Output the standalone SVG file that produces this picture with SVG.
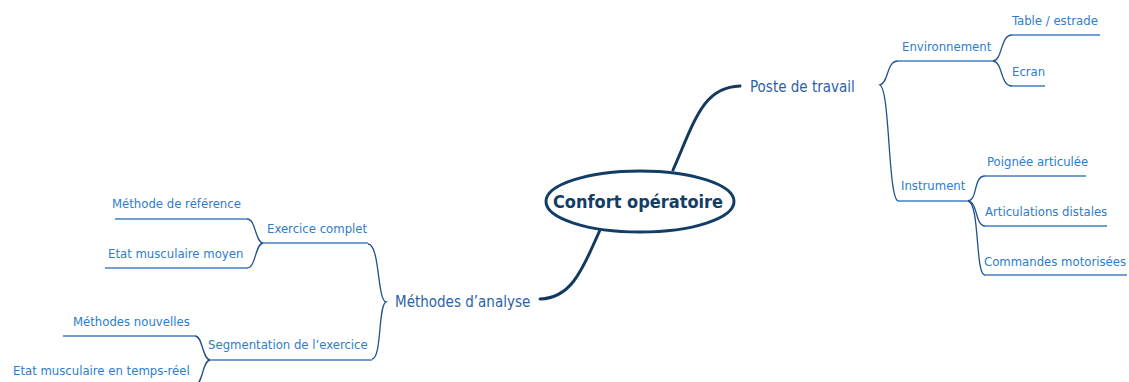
<svg xmlns="http://www.w3.org/2000/svg" width="1129" height="382" viewBox="0 0 1129 382">
<style>
.lbl{font-family:"DejaVu Sans Condensed","DejaVu Sans",sans-serif;font-size:13px;fill:#2e7ccc}
.main{font-family:"DejaVu Sans Condensed","DejaVu Sans",sans-serif;font-size:15px;fill:#2a62a8}
.ctr{font-family:"DejaVu Sans Condensed","DejaVu Sans",sans-serif;font-size:18px;font-weight:bold;fill:#123d66}
.trunk{fill:none;stroke:#133a5e;stroke-width:3;stroke-linecap:round}
.br{fill:none;stroke:#22518c;stroke-width:1.3}
.ul{fill:none;stroke:#3f7fc4;stroke-width:1.5}
</style>
<rect width="1129" height="382" fill="#fff"/>
<g id="connectors">
<path class="trunk" d="M673,170 C 695,120 703,87 740,86"/>
<path class="trunk" d="M600,230 C 580,275 570,298 540,299"/>
<path class="br" d="M898,61 C 886,61 889,83 880,85 C 890,90 888,198 898,201"/>
<path class="br" d="M993,61 C 1003,60 1000,35 1012,35"/>
<path class="br" d="M993,61 C 1003,62 1000,86 1012,86"/>
<path class="br" d="M968,201 C 978,200 973,176 985,176"/>
<path class="br" d="M968,201 C 978,202 975,226 985,226"/>
<path class="br" d="M968,201 C 980,203 975,275 985,275"/>
<path class="br" d="M368,244 C 380,244 377,300 386,302 C 378,305 382,358 372,359"/>
<path class="br" d="M247,219 C 256,219 255,242 263,243"/>
<path class="br" d="M263,243 C 255,244 256,268 247,268"/>
<path class="br" d="M195,336 C 203,336 202,359 210,360"/>
<path class="br" d="M210,360 C 202,361 203,385 195,385"/>
</g>
<g id="center">
<ellipse cx="640" cy="201.5" rx="94" ry="30.5" fill="#fff" stroke="#123d66" stroke-width="3"/>
<text class="ctr" x="638" y="208" text-anchor="middle">Confort opératoire</text>
</g>
<g id="poste"><text class="main" x="750" y="92">Poste de travail</text></g>
<g id="environnement"><text class="lbl" x="902" y="51">Environnement</text><line class="ul" x1="898" y1="61" x2="993" y2="61"/></g>
<g id="table"><text class="lbl" x="1012" y="25">Table / estrade</text><line class="ul" x1="1012" y1="35" x2="1100" y2="35"/></g>
<g id="ecran"><text class="lbl" x="1012" y="76">Ecran</text><line class="ul" x1="1012" y1="86" x2="1045" y2="86"/></g>
<g id="instrument"><text class="lbl" x="901" y="190">Instrument</text><line class="ul" x1="898" y1="201" x2="968" y2="201"/></g>
<g id="poignee"><text class="lbl" x="987" y="166">Poignée articulée</text><line class="ul" x1="984" y1="176" x2="1086" y2="176"/></g>
<g id="articulations"><text class="lbl" x="985" y="216">Articulations distales</text><line class="ul" x1="984" y1="226" x2="1107" y2="226"/></g>
<g id="commandes"><text class="lbl" x="984" y="266">Commandes motorisées</text><line class="ul" x1="984" y1="275" x2="1127" y2="275"/></g>
<g id="methodes"><text class="main" x="395" y="307">Méthodes d’analyse</text></g>
<g id="exercice"><text class="lbl" x="267" y="233">Exercice complet</text><line class="ul" x1="263" y1="243" x2="368" y2="243"/></g>
<g id="reference"><text class="lbl" x="112" y="208">Méthode de référence</text><line class="ul" x1="115" y1="219" x2="247" y2="219"/></g>
<g id="moyen"><text class="lbl" x="108" y="258">Etat musculaire moyen</text><line class="ul" x1="105" y1="268" x2="247" y2="268"/></g>
<g id="segmentation"><text class="lbl" x="208" y="349">Segmentation de l’exercice</text><line class="ul" x1="210" y1="360" x2="372" y2="360"/></g>
<g id="nouvelles"><text class="lbl" x="73" y="326">Méthodes nouvelles</text><line class="ul" x1="63" y1="336" x2="195" y2="336"/></g>
<g id="tempsreel"><text class="lbl" x="13" y="375">Etat musculaire en temps-réel</text><line class="ul" x1="10" y1="385" x2="195" y2="385"/></g>
</svg>
